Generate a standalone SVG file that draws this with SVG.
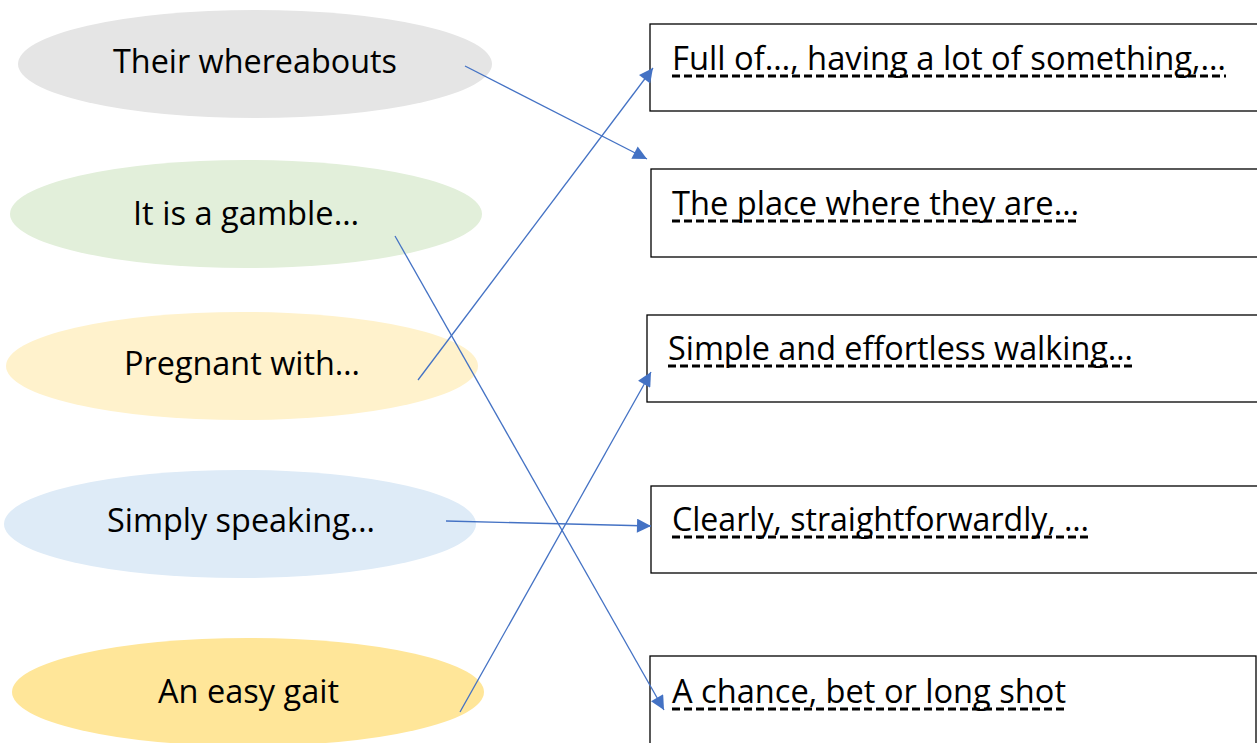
<svg xmlns="http://www.w3.org/2000/svg" width="1257" height="743" viewBox="0 0 1257 743">
<defs>
<marker id="ah" viewBox="0 0 10 10" refX="10" refY="5" markerWidth="18" markerHeight="14" markerUnits="userSpaceOnUse" orient="auto"><path d="M0,0 L10,5 L0,10 Z" fill="#4472c4"/></marker>
<style>
.t{font-family:"Open Sans","Noto Sans",sans-serif;font-size:32px;fill:#000}
.box{fill:#fff;stroke:#000;stroke-width:1.3}
.ul{stroke:#000;stroke-width:3;stroke-dasharray:8 4}
.c{stroke:#4472c4;stroke-width:1.3;fill:none;marker-end:url(#ah)}
</style>
</defs>
<rect width="1257" height="743" fill="#fff"/>
<g id="n1"><ellipse cx="255" cy="64" rx="237" ry="54" fill="#e5e5e5"/><text class="t" x="113" y="73" textLength="284" lengthAdjust="spacingAndGlyphs">Their whereabouts</text></g>
<g id="n2"><ellipse cx="246" cy="214" rx="236" ry="54" fill="#e2efda"/><text class="t" x="133" y="225" textLength="226" lengthAdjust="spacingAndGlyphs">It is a gamble…</text></g>
<g id="n3"><ellipse cx="242" cy="366" rx="236" ry="54" fill="#fff2cc"/><text class="t" x="124" y="375" textLength="236" lengthAdjust="spacingAndGlyphs">Pregnant with…</text></g>
<g id="n4"><ellipse cx="240" cy="524" rx="236" ry="54" fill="#deebf7"/><text class="t" x="107" y="532" textLength="268" lengthAdjust="spacingAndGlyphs">Simply speaking…</text></g>
<g id="n5"><ellipse cx="248" cy="692" rx="236" ry="54" fill="#ffe699"/><text class="t" x="158" y="703" textLength="181" lengthAdjust="spacingAndGlyphs">An easy gait</text></g>
<g id="b1"><rect class="box" x="650" y="24" width="620" height="87"/><text class="t" x="672" y="70" textLength="554" lengthAdjust="spacingAndGlyphs">Full of…, having a lot of something,…</text><line class="ul" x1="672" y1="76" x2="1226" y2="76"/></g>
<g id="b2"><rect class="box" x="651" y="169" width="620" height="88"/><text class="t" x="672" y="215" textLength="407" lengthAdjust="spacingAndGlyphs">The place where they are…</text><line class="ul" x1="672" y1="221" x2="1079" y2="221"/></g>
<g id="b3"><rect class="box" x="647" y="315" width="620" height="87"/><text class="t" x="668" y="360" textLength="465" lengthAdjust="spacingAndGlyphs">Simple and effortless walking…</text><line class="ul" x1="668" y1="366" x2="1133" y2="366"/></g>
<g id="b4"><rect class="box" x="651" y="486" width="620" height="87"/><text class="t" x="672" y="531" textLength="417" lengthAdjust="spacingAndGlyphs">Clearly, straightforwardly, …</text><line class="ul" x1="672" y1="537" x2="1089" y2="537"/></g>
<g id="b5"><rect class="box" x="650" y="656" width="606" height="100"/><text class="t" x="672" y="703" textLength="394" lengthAdjust="spacingAndGlyphs">A chance, bet or long shot</text><line class="ul" x1="672" y1="709" x2="1066" y2="709"/></g>
<g id="connectors">
<line class="c" x1="465" y1="66" x2="647" y2="159"/>
<line class="c" x1="418" y1="380" x2="653" y2="68"/>
<line class="c" x1="395" y1="236" x2="664" y2="710"/>
<line class="c" x1="446" y1="521" x2="651" y2="526"/>
<line class="c" x1="460" y1="712" x2="651" y2="372"/>
</g>
</svg>
